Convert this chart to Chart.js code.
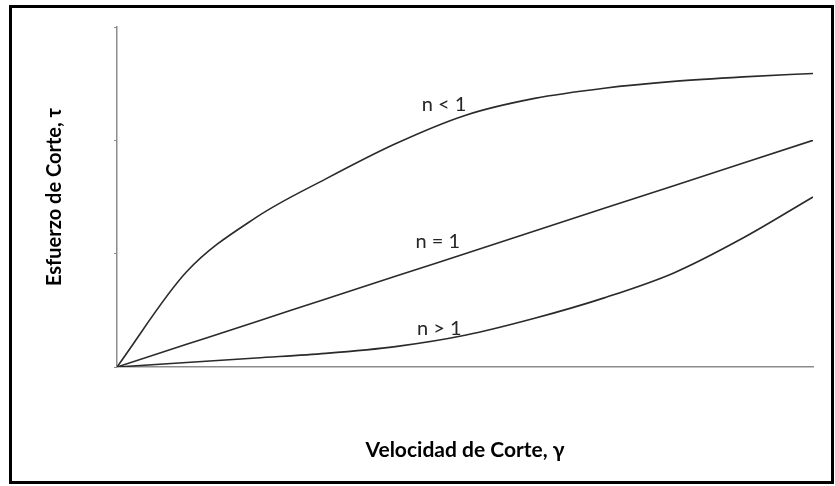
<!DOCTYPE html>
<html>
<head>
<meta charset="utf-8">
<script src="https://cdn.jsdelivr.net/npm/chart.js@4"></script>
<style>
  html, body { margin: 0; padding: 0; background: #fff; }
  #wrap { position: relative; width: 835px; height: 486px; }
  #frame {
    position: absolute; left: 9px; top: 5px; width: 819px; height: 473px;
    border: 3px solid #000; pointer-events: none;
  }
  canvas { position: absolute; left: 0; top: 0; }
</style>
</head>
<body>
<div id="wrap">
  <canvas id="flow-chart" width="835" height="486"></canvas>
  <div id="frame"></div>
</div>
<script>
// Curvas de flujo: esfuerzo de corte vs velocidad de corte

const shearRate = [0, 1, 2, 3, 4, 5, 6, 7, 8, 9, 10];
const pseudoplastic = [0, 0.84, 1.32, 1.66, 1.97, 2.22, 2.37, 2.46, 2.52, 2.56, 2.59]; // n < 1
const newtonian = [0, 0.2, 0.4, 0.6, 0.8, 1.0, 1.2, 1.4, 1.6, 1.8, 2.0];                 // n = 1
const dilatant = [0, 0.04, 0.08, 0.12, 0.18, 0.28, 0.43, 0.61, 0.83, 1.14, 1.50];         // n > 1
const yTicks = [0, 1, 2, 3];

const curveLabels = ['n < 1', 'n = 1', 'n > 1'];
const labelX = [4.70, 4.61, 4.63];
const labelY = [2.32, 1.11, 0.34];

function toPoints(ys) {
  return shearRate.map((x, i) => ({ x: x, y: ys[i] }));
}

function curve(label, ys) {
  return {
    label: label,
    data: toPoints(ys),
    borderColor: '#2a2a2a',
    borderWidth: 1.6,
    pointRadius: 0,
    fill: false,
    cubicInterpolationMode: 'monotone'
  };
}

// etiquetas de cada curva, colocadas en coordenadas de datos
const curveLabelPlugin = {
  id: 'curveLabels',
  afterDatasetsDraw(chart) {
    const { ctx, scales } = chart;
    ctx.save();
    ctx.font = '20px Lato';
    ctx.fillStyle = '#262626';
    ctx.textAlign = 'center';
    ctx.textBaseline = 'middle';
    curveLabels.forEach((t, i) => {
      ctx.fillText(t, scales.x.getPixelForValue(labelX[i]), scales.y.getPixelForValue(labelY[i]));
    });
    ctx.restore();
  }
};

new Chart(document.getElementById('flow-chart'), {
  type: 'line',
  data: {
    datasets: [
      curve('n < 1', pseudoplastic),
      curve('n = 1', newtonian),
      curve('n > 1', dilatant)
    ]
  },
  options: {
    responsive: false,
    animation: false,
    layout: { padding: { left: 0, right: 22, top: 27, bottom: 0 } },
    plugins: {
      legend: { display: false },
      tooltip: { enabled: false }
    },
    scales: {
      x: {
        type: 'linear',
        min: 0,
        max: 10,
        grid: { display: false },
        border: { display: true, color: '#8c8c8c', width: 1.5 },
        ticks: { display: false },
        title: {
          display: true,
          text: 'Velocidad de Corte, γ',
          color: '#000',
          font: { family: 'Lato', size: 21, weight: 'bold' },
          padding: { top: 0, bottom: 23 }
        },
        afterFit(scale) { scale.height = 119; }
      },
      y: {
        min: 0,
        max: 3,
        afterBuildTicks(scale) { scale.ticks = yTicks.map(v => ({ value: v })); },
        grid: { drawOnChartArea: false, drawTicks: true, tickLength: 3, color: '#8c8c8c' },
        border: { display: true, color: '#8c8c8c', width: 1.5 },
        ticks: { display: false },
        title: {
          display: true,
          text: 'Esfuerzo de Corte, τ',
          color: '#000',
          font: { family: 'Lato', size: 20, weight: 'bold' },
          padding: { top: 43, bottom: 0 }
        },
        afterFit(scale) { scale.width = 117; }
      }
    }
  },
  plugins: [curveLabelPlugin]
});
</script>
</body>
</html>
